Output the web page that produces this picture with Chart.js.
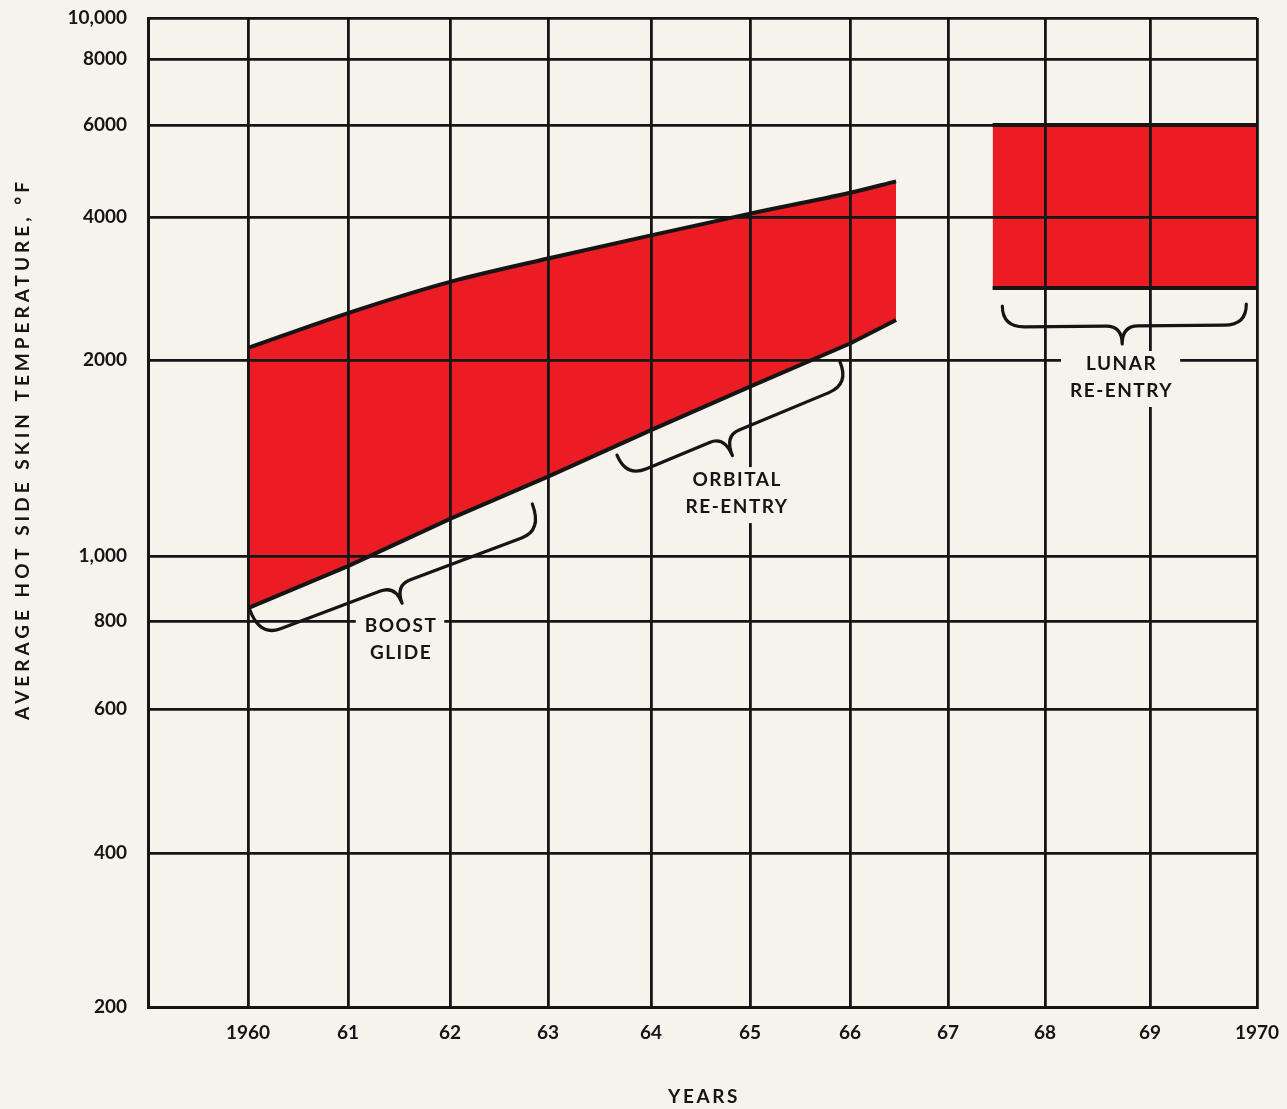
<!DOCTYPE html>
<html>
<head>
<meta charset="utf-8">
<script src="https://cdn.jsdelivr.net/npm/chart.js@4.4.1/dist/chart.umd.min.js"></script>
<style>
  html, body { margin: 0; padding: 0; background: #f6f3ec; }
  #wrap { width: 1287px; height: 1109px; }
</style>
</head>
<body>
<div id="wrap"><canvas id="chart" width="1287" height="1109"></canvas></div>
<script>
// axis ticks
const years = [1959, 1960, 1961, 1962, 1963, 1964, 1965, 1966, 1967, 1968, 1969, 1970];
const yearLabels = ['', '1960', '61', '62', '63', '64', '65', '66', '67', '68', '69', '1970'];
const tempTicks = [200, 400, 600, 800, 1000, 2000, 4000, 6000, 8000, 10000];
const tempLabels = ['200', '400', '600', '800', '1,000', '2000', '4000', '6000', '8000', '10,000'];

// boost glide / orbital re-entry band
const orbitalYears = [1960, 1961, 1962, 1963, 1964, 1965, 1966, 1966.47];
const orbitalHigh = [2120, 2510, 2920, 3270, 3660, 4060, 4450, 4680];
const orbitalLow = [836, 966, 1140, 1324, 1561, 1820, 2166, 2428];

// lunar re-entry band
const lunarYears = [1967.46, 1970];
const lunarHigh = [6000, 6000];
const lunarLow = [2835, 2835];

// bracket annotations: [year, temp] of each end, label anchor
const bracketNames = [['BOOST', 'GLIDE'], ['ORBITAL', 'RE-ENTRY'], ['LUNAR', 'RE-ENTRY']];
const bracketFrom = [[1960.02, 830], [1963.67, 1429], [1967.56, 2598]];
const bracketTo = [[1962.84, 1202], [1965.9, 1986], [1969.9, 2624]];
const labelAt = [[1961.51, 788], [1964.86, 1308], [1968.72, 1972]];

// the paper grid is hand ruled, so the lines are not evenly spaced:
// where each grid line sits (canvas px) - used to warp the scales
const xGridPx = [148, 248, 348, 450, 548, 651, 750, 850, 948, 1045, 1150, 1257];
const yGridPx = [1007, 853, 709, 621, 556, 360, 217, 125, 59, 18];

const RED = '#ec1c24';
const INK = '#151515';
const PAPER = '#f6f3ec';
const FONT = 'Lato, "DejaVu Sans", sans-serif';

function warp(v, vals, px, useLog) {
  const f = useLog ? Math.log : (t) => t;
  const a = px[0], b = px[px.length - 1];
  let i = 0;
  while (i < vals.length - 2 && v > vals[i + 1]) i++;
  const t = (f(v) - f(vals[i])) / (f(vals[i + 1]) - f(vals[i]));
  const p = px[i] + t * (px[i + 1] - px[i]);
  return (p - a) / (b - a);
}

class WarpScale extends Chart.LinearScale {
  getPixelForValue(value) {
    const d = this.axis === 'x'
      ? warp(value, years, xGridPx, false)
      : warp(value, tempTicks, yGridPx, true);
    return this.getPixelForDecimal(d);
  }
}
WarpScale.id = 'warp';
WarpScale.defaults = Chart.LinearScale.defaults;
Chart.register(WarpScale);

const pts = (xs, ys) => xs.map((x, i) => ({ x: x, y: ys[i] }));

function drawBracket(ctx, x0, y0, x1, y1, h, t, tip) {
  const L = Math.hypot(x1 - x0, y1 - y0);
  const m = L * tip, c = 22, c2 = 16;
  ctx.save();
  ctx.translate(x0, y0);
  ctx.rotate(Math.atan2(y1 - y0, x1 - x0));
  ctx.beginPath();
  ctx.moveTo(0, 0);
  ctx.quadraticCurveTo(0, h, c, h);
  ctx.lineTo(m - c2, h);
  ctx.quadraticCurveTo(m, h, m, h + t);
  ctx.quadraticCurveTo(m, h, m + c2, h);
  ctx.lineTo(L - c, h);
  ctx.quadraticCurveTo(L, h, L, 0);
  ctx.strokeStyle = INK;
  ctx.lineWidth = 3.2;
  ctx.lineCap = 'round';
  ctx.lineJoin = 'round';
  ctx.stroke();
  ctx.restore();
}

const bracketShape = [[28, 19, 0.48], [24, 21, 0.44], [21, 18, 0.49]];

const notes = {
  id: 'notes',
  afterDraw(chart) {
    const ctx = chart.ctx, sx = chart.scales.x, sy = chart.scales.y;
    ctx.save();
    ctx.font = 'bold 19px ' + FONT;
    ctx.letterSpacing = '1.5px';
    ctx.textAlign = 'center';
    ctx.textBaseline = 'middle';
    bracketNames.forEach((lines, i) => {
      const cx = sx.getPixelForValue(labelAt[i][0]);
      const cy = sy.getPixelForValue(labelAt[i][1]);
      const w = Math.max(...lines.map((s) => ctx.measureText(s).width));
      ctx.fillStyle = PAPER;
      ctx.fillRect(cx - w / 2 - 8, cy - 13, w + 16, lines.length * 27 + 2);
      ctx.fillStyle = INK;
      lines.forEach((s, k) => ctx.fillText(s, cx + 1, cy + k * 27));
    });
    bracketNames.forEach((_, i) => {
      const s = bracketShape[i];
      drawBracket(ctx,
        sx.getPixelForValue(bracketFrom[i][0]), sy.getPixelForValue(bracketFrom[i][1]),
        sx.getPixelForValue(bracketTo[i][0]), sy.getPixelForValue(bracketTo[i][1]),
        s[0], s[1], s[2]);
    });

    // axis titles
    ctx.fillStyle = INK;
    ctx.font = 'bold 19px ' + FONT;
    let title = 'AVERAGE HOT SIDE SKIN TEMPERATURE, \u00B0F';
    ctx.letterSpacing = '0px';
    let w = ctx.measureText(title).width;
    ctx.letterSpacing = ((542 - w) / title.length).toFixed(2) + 'px';
    ctx.save();
    ctx.translate(23, 449);
    ctx.rotate(-Math.PI / 2);
    ctx.fillText(title, 0, 0);
    ctx.restore();
    title = 'YEARS';
    ctx.letterSpacing = '0px';
    w = ctx.measureText(title).width;
    ctx.letterSpacing = ((72 - w) / title.length).toFixed(2) + 'px';
    ctx.fillText(title, 704, 1097);
    ctx.restore();
  }
};

const gridOpts = { color: INK, lineWidth: 2.8, drawTicks: false, z: 1 };
const borderOpts = { color: INK, width: 3, z: 1 };

new Chart(document.getElementById('chart'), {
  type: 'line',
  data: {
    datasets: [
      // upper edges carry the red fill down to the next dataset; lower edges
      // get order 0 so their black line is stroked on top of that fill
      { data: pts(orbitalYears, orbitalHigh), borderColor: INK, borderWidth: 4, backgroundColor: RED,
        fill: '+1', pointRadius: 0, cubicInterpolationMode: 'monotone', order: 1 },
      { data: pts(orbitalYears, orbitalLow), borderColor: INK, borderWidth: 4, fill: false,
        pointRadius: 0, order: 0 },
      { data: pts(lunarYears, lunarHigh), borderColor: INK, borderWidth: 4, backgroundColor: RED,
        fill: '+1', pointRadius: 0, order: 1 },
      { data: pts(lunarYears, lunarLow), borderColor: INK, borderWidth: 4, fill: false,
        pointRadius: 0, order: 0 }
    ]
  },
  options: {
    responsive: false,
    animation: false,
    events: [],
    layout: { padding: { top: 18, right: 30, left: 0, bottom: 0 } },
    plugins: { legend: { display: false }, tooltip: { enabled: false } },
    scales: {
      x: {
        type: 'warp', min: 1959, max: 1970,
        afterBuildTicks: (s) => { s.ticks = years.map((v) => ({ value: v })); },
        afterFit: (s) => { s.height = 102; s.paddingLeft = 0; s.paddingRight = 0; },
        grid: gridOpts, border: borderOpts,
        ticks: {
          autoSkip: false, maxRotation: 0, padding: 14, color: INK,
          font: { family: FONT, size: 19, weight: 'bold' },
          callback: (v, i) => yearLabels[i]
        }
      },
      y: {
        type: 'warp', min: 200, max: 10000,
        afterBuildTicks: (s) => { s.ticks = tempTicks.map((v) => ({ value: v })); },
        afterFit: (s) => { s.width = 148; s.paddingTop = 0; s.paddingBottom = 0; },
        grid: gridOpts, border: borderOpts,
        ticks: {
          autoSkip: false, padding: 21, color: INK,
          font: { family: FONT, size: 19, weight: 'bold' },
          callback: (v, i) => tempLabels[i]
        }
      }
    }
  },
  plugins: [notes]
});
</script>
</body>
</html>
